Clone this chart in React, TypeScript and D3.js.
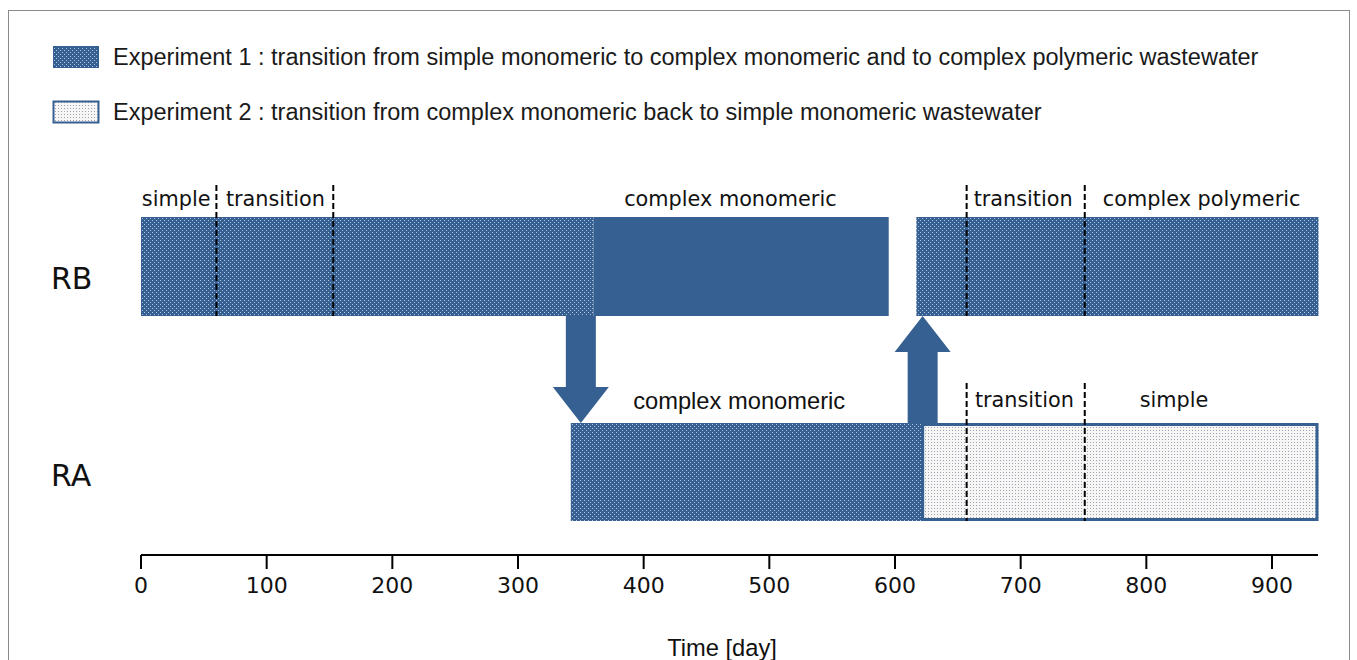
import React from 'react';
import * as d3 from 'd3';

// phases in days
const rbSegments = [
  { start: 0, end: 360, fill: 'dots' },
  { start: 360, end: 595, fill: 'solid' },
  { start: 617, end: 937, fill: 'dots' },
];
const raSegments = [
  { start: 342, end: 622, fill: 'dots' },
  { start: 622, end: 937, fill: 'light' },
];
const rbDividers = [60, 153, 657, 751];
const raDividers = [657, 751];
const rbLabels = [
  { text: 'simple', at: 28 },
  { text: 'transition', at: 107 },
  { text: 'complex monomeric', at: 469 },
  { text: 'transition', at: 702 },
  { text: 'complex polymeric', at: 844 },
];
const raLabels = [
  { text: 'complex monomeric', at: 476, sans: true },
  { text: 'transition', at: 703, sans: false },
  { text: 'simple', at: 822, sans: false },
];
const arrows = [
  { day: 350, dir: 'down' },
  { day: 622, dir: 'up' },
];
const xTicks = [0, 100, 200, 300, 400, 500, 600, 700, 800, 900];
const legendItems = [
  { text: 'Experiment 1 : transition from simple monomeric to complex monomeric and to complex polymeric wastewater', fill: 'dots' },
  { text: 'Experiment 2 : transition from complex monomeric back to simple monomeric wastewater', fill: 'light' },
];

const BLUE = '#376092';
const W = 1357;
const H = 660;

const x = d3.scaleLinear().domain([0, 900]).range([141, 1272]);
const rows = { RB: { top: 217, bottom: 316 }, RA: { top: 423, bottom: 521 } };

const fillFor = (f: string) => (f === 'solid' ? BLUE : f === 'dots' ? 'url(#dots)' : 'url(#light)');
const dvs = '"DejaVu Sans", sans-serif';
const arial = '"Liberation Sans", Arial, sans-serif';

const App = () => {
  const axisY = 555;
  const shaftW = 30;
  const headW = 56;
  const headH = 36;

  const arrowPath = (a: { day: number; dir: string }) => {
    const cx = x(a.day);
    const y0 = rows.RB.bottom;
    const y1 = rows.RA.top;
    if (a.dir === 'down') {
      return d3.line()([
        [cx - shaftW / 2, y0],
        [cx + shaftW / 2, y0],
        [cx + shaftW / 2, y1 - headH],
        [cx + headW / 2, y1 - headH],
        [cx, y1],
        [cx - headW / 2, y1 - headH],
        [cx - shaftW / 2, y1 - headH],
      ]) + 'Z';
    }
    return d3.line()([
      [cx - shaftW / 2, y1],
      [cx + shaftW / 2, y1],
      [cx + shaftW / 2, y0 + headH],
      [cx + headW / 2, y0 + headH],
      [cx, y0],
      [cx - headW / 2, y0 + headH],
      [cx - shaftW / 2, y0 + headH],
    ]) + 'Z';
  };

  return (
    <svg width={W} height={H} style={{ position: 'absolute', left: 0, top: 0, display: 'block' }}>
      <defs>
        <pattern id="dots" width={4} height={4} patternUnits="userSpaceOnUse">
          <rect width={4} height={4} fill={BLUE} />
          <rect x={0} y={0} width={1} height={1} fill="#b3c6de" />
          <rect x={2} y={2} width={1} height={1} fill="#a7bcd7" />
        </pattern>
        <pattern id="light" width={3} height={3} patternUnits="userSpaceOnUse">
          <rect width={3} height={3} fill="#f6f6f6" />
          <rect x={1} y={1} width={1} height={1} fill="#a0a4aa" />
        </pattern>
      </defs>

      <rect x={8.5} y={10.5} width={1341} height={680} fill="#fff" stroke="#8a8a8a" strokeWidth={1} />

      {/* legend */}
      {legendItems.map((d, i) => (
        <g key={i} transform={`translate(0, ${46 + i * 55})`}>
          <rect x={53.5} y={0.5} width={45} height={21} fill={fillFor(d.fill)} stroke={BLUE} strokeWidth={d.fill === 'light' ? 2 : 1} />
          <text x={113} y={19} fontFamily={arial} fontSize={23.5} fill="#1a1a1a">{d.text}</text>
        </g>
      ))}

      {/* row names */}
      <text x={51} y={289} fontFamily={dvs} fontSize={30} fill="#111">RB</text>
      <text x={51} y={486} fontFamily={dvs} fontSize={30} fill="#111">RA</text>

      {/* arrows */}
      {arrows.map((a, i) => (
        <path key={i} d={arrowPath(a)} fill={BLUE} />
      ))}

      {/* RB bars */}
      {rbSegments.map((s, i) => (
        <rect key={i} x={x(s.start)} y={rows.RB.top} width={x(s.end) - x(s.start)} height={rows.RB.bottom - rows.RB.top} fill={fillFor(s.fill)} />
      ))}
      {/* RA bars */}
      {raSegments.map((s, i) => (
        <rect key={i} x={x(s.start)} y={rows.RA.top} width={x(s.end) - x(s.start)} height={rows.RA.bottom - rows.RA.top} fill={fillFor(s.fill)} />
      ))}
      <rect x={x(raSegments[1].start)} y={rows.RA.top + 1.5} width={x(raSegments[1].end) - x(raSegments[1].start) - 1.5} height={rows.RA.bottom - rows.RA.top - 3} fill="none" stroke={BLUE} strokeWidth={3} />

      {/* phase dividers */}
      {rbDividers.map((d, i) => (
        <line key={i} x1={x(d)} x2={x(d)} y1={185} y2={rows.RB.bottom} stroke="#000" strokeWidth={2} strokeDasharray="6,3" />
      ))}
      {raDividers.map((d, i) => (
        <line key={i} x1={x(d)} x2={x(d)} y1={383} y2={rows.RA.bottom} stroke="#000" strokeWidth={2} strokeDasharray="6,3" />
      ))}

      {/* phase labels */}
      {rbLabels.map((l, i) => (
        <text key={i} x={x(l.at)} y={206} textAnchor="middle" fontFamily={dvs} fontSize={20.8} fill="#111">{l.text}</text>
      ))}
      {raLabels.map((l, i) => (
        <text key={i} x={x(l.at)} y={l.sans ? 409 : 407} textAnchor="middle" fontFamily={l.sans ? arial : dvs} fontSize={l.sans ? 23.7 : 20.8} fill="#111">{l.text}</text>
      ))}

      {/* x axis */}
      <line x1={x(0)} x2={1318} y1={axisY} y2={axisY} stroke="#000" strokeWidth={2} />
      {xTicks.map((t) => (
        <g key={t}>
          <line x1={x(t)} x2={x(t)} y1={axisY} y2={axisY + 14} stroke="#000" strokeWidth={2} />
          <text x={x(t)} y={593} textAnchor="middle" fontFamily={dvs} fontSize={22} fill="#111">{t}</text>
        </g>
      ))}
      <text x={722} y={656} textAnchor="middle" fontFamily={arial} fontSize={23.7} fill="#111">Time [day]</text>
    </svg>
  );
};

export default App;
